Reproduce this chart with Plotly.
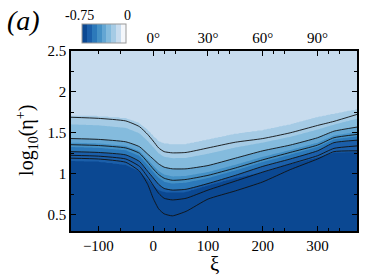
import numpy as np
import plotly.graph_objects as go

# streamwise stations (xi) at which contour-level heights were read
xi = [-150, -100, -50, -25, -10, 0, 10, 20, 35, 60, 100, 150, 200, 250, 300, 330, 372]

# heights (log10 eta+) of the drawn contour lines, top to bottom
line1 = [1.69, 1.677, 1.645, 1.575, 1.48, 1.40, 1.315, 1.27, 1.255, 1.26, 1.315, 1.385, 1.43, 1.50, 1.59, 1.64, 1.725]
line2 = [1.43, 1.42, 1.39, 1.33, 1.24, 1.18, 1.12, 1.08, 1.06, 1.06, 1.10, 1.19, 1.28, 1.35, 1.44, 1.52, 1.57]
line3 = [1.355, 1.345, 1.315, 1.25, 1.14, 1.06, 0.99, 0.945, 0.92, 0.93, 0.98, 1.07, 1.17, 1.26, 1.35, 1.44, 1.48]
line4 = [1.27, 1.26, 1.23, 1.15, 1.03, 0.95, 0.87, 0.82, 0.80, 0.81, 0.88, 0.98, 1.09, 1.18, 1.28, 1.38, 1.41]
line5 = [1.225, 1.215, 1.18, 1.09, 0.96, 0.86, 0.76, 0.70, 0.68, 0.70, 0.80, 0.91, 1.02, 1.12, 1.22, 1.31, 1.34]
line6 = [1.19, 1.18, 1.14, 1.03, 0.87, 0.70, 0.57, 0.51, 0.485, 0.54, 0.69, 0.79, 0.90, 1.05, 1.18, 1.27, 1.28]

# heights of colour-band edges not carrying a line
edge_top = [1.71, 1.70, 1.675, 1.615, 1.53, 1.46, 1.395, 1.37, 1.355, 1.36, 1.415, 1.485, 1.53, 1.60, 1.69, 1.73, 1.785]
edge_dark = [1.16, 1.15, 1.11, 1.03, 0.93, 0.86, 0.80, 0.78, 0.77, 0.78, 0.86, 0.95, 1.02, 1.12, 1.20, 1.26, 1.27]

# values of the field at those curves
node_values = [-0.8, -0.7, -0.6, -0.45, -0.3, -0.15, -0.1, -0.02]

# colorbar / angle tick labels
cbar_labels = ["-0.75", "0"]
angle_pos = [0, 100, 200, 300]
angle_text = ["0°", "30°", "60°", "90°"]

band_colors = ["#0b4892", "#1b5faa", "#2c79ba", "#4591c6", "#63a6d3",
               "#84bbdd", "#a5cbe5", "#c8dcee", "#f4f7fb"]

# build the field table the contour trace needs from the curves above
xg = np.linspace(xi[0], xi[-1], 262)
eta = np.linspace(0.3, 2.5, 221)
curves = [edge_dark, line4, line3, line2, line1, edge_top]
cg = [np.interp(xg, xi, c) for c in curves]
z = np.zeros((len(eta), len(xg)))
for j in range(len(xg)):
    xp = [0.0] + [c[j] for c in cg] + [3.0]
    z[:, j] = np.interp(eta, xp, node_values)

nb = len(band_colors)
cs = []
for i, c in enumerate(band_colors):
    cs.append([i / nb, c])
    cs.append([(i + 1) / nb, c])

SERIF = "Liberation Serif, Times New Roman, Times, DejaVu Serif, serif"

fig = go.Figure()
fig.add_trace(go.Contour(
    x=xg, y=eta, z=z,
    zmin=-0.8, zmax=0.1,
    autocontour=False,
    contours=dict(start=-0.7, end=0.0, size=0.1, coloring="fill", showlines=False),
    line=dict(width=0, smoothing=0.5),
    colorscale=cs,
    hoverinfo="skip",
    colorbar=dict(
        orientation="h", x=0.115, xanchor="center", y=1.097, yanchor="middle",
        len=44, lenmode="pixels", thickness=19, xpad=0, ypad=0,
        showticklabels=False, ticks="", outlinewidth=1, outlinecolor="#999999",
    ),
))

for ln in [line1, line2, line3, line4, line5, line6]:
    fig.add_trace(go.Scatter(
        x=xi, y=ln, xaxis="x2", mode="lines",
        line=dict(color="#111111", width=0.9, shape="spline", smoothing=0.5),
        hoverinfo="skip", showlegend=False,
    ))

minor_x = [-60, 20, 40, 120, 140, 220, 240, 320, 340]
minor_top = [-100, -60, 20, 40, 120, 140, 220, 240, 320, 340]

fig.update_layout(
    width=374, height=276,
    margin=dict(l=71, r=17, t=51, b=45, autoexpand=False),
    paper_bgcolor="white", plot_bgcolor="white",
    font=dict(family=SERIF, size=15, color="black"),
    showlegend=False,
    xaxis=dict(
        range=[-150, 372], tickvals=[-100, 0, 100, 200, 300],
        ticks="inside", ticklen=5, tickwidth=1, tickcolor="black",
        showline=True, linecolor="black", linewidth=1.5,
        showgrid=False, zeroline=False,
        minor=dict(tickvals=minor_x, ticks="inside", ticklen=3, tickcolor="black"),
        tickfont=dict(family=SERIF, size=15),
    ),
    xaxis2=dict(
        overlaying="x", side="top", anchor="y",
        range=[-150, 372], tickvals=angle_pos, ticktext=angle_text,
        ticks="inside", ticklen=5, tickwidth=1, tickcolor="black",
        showline=True, linecolor="black", linewidth=1.5,
        showgrid=False, zeroline=False,
        minor=dict(tickvals=minor_top, ticks="inside", ticklen=3, tickcolor="black"),
        tickfont=dict(family=SERIF, size=15),
    ),
    yaxis=dict(
        range=[0.3, 2.5], tickvals=[0.5, 1, 1.5, 2, 2.5],
        ticks="inside", ticklen=5, tickwidth=1, tickcolor="black",
        showline=True, linecolor="black", linewidth=1.5, mirror="ticks",
        showgrid=False, zeroline=False,
        minor=dict(dtick=0.25, ticks="inside", ticklen=3, tickcolor="black"),
        tickfont=dict(family=SERIF, size=15),
    ),
    annotations=[
        dict(text="<i>(a)</i>", x=-0.231, y=1.267, xref="paper", yref="paper",
             xanchor="left", yanchor="top", showarrow=False,
             font=dict(family=SERIF, size=28)),
        dict(text=cbar_labels[0], x=0.028, y=1.2, xref="paper", yref="paper",
             xanchor="center", yanchor="middle", showarrow=False,
             font=dict(family=SERIF, size=14)),
        dict(text=cbar_labels[1], x=0.196, y=1.2, xref="paper", yref="paper",
             xanchor="center", yanchor="middle", showarrow=False,
             font=dict(family=SERIF, size=14)),
        dict(text="ξ", x=0.5, y=-0.185, xref="paper", yref="paper",
             xanchor="center", yanchor="middle", showarrow=False,
             font=dict(family=SERIF, size=21)),
        dict(text="log<sub>10</sub>(η<sup>+</sup>)", x=-0.154, y=0.506,
             xref="paper", yref="paper", textangle=-90,
             xanchor="center", yanchor="middle", showarrow=False,
             font=dict(family=SERIF, size=20)),
    ],
)

fig.write_html("out.html", config={"displayModeBar": False},
               post_script="document.body.style.margin='0px';")
